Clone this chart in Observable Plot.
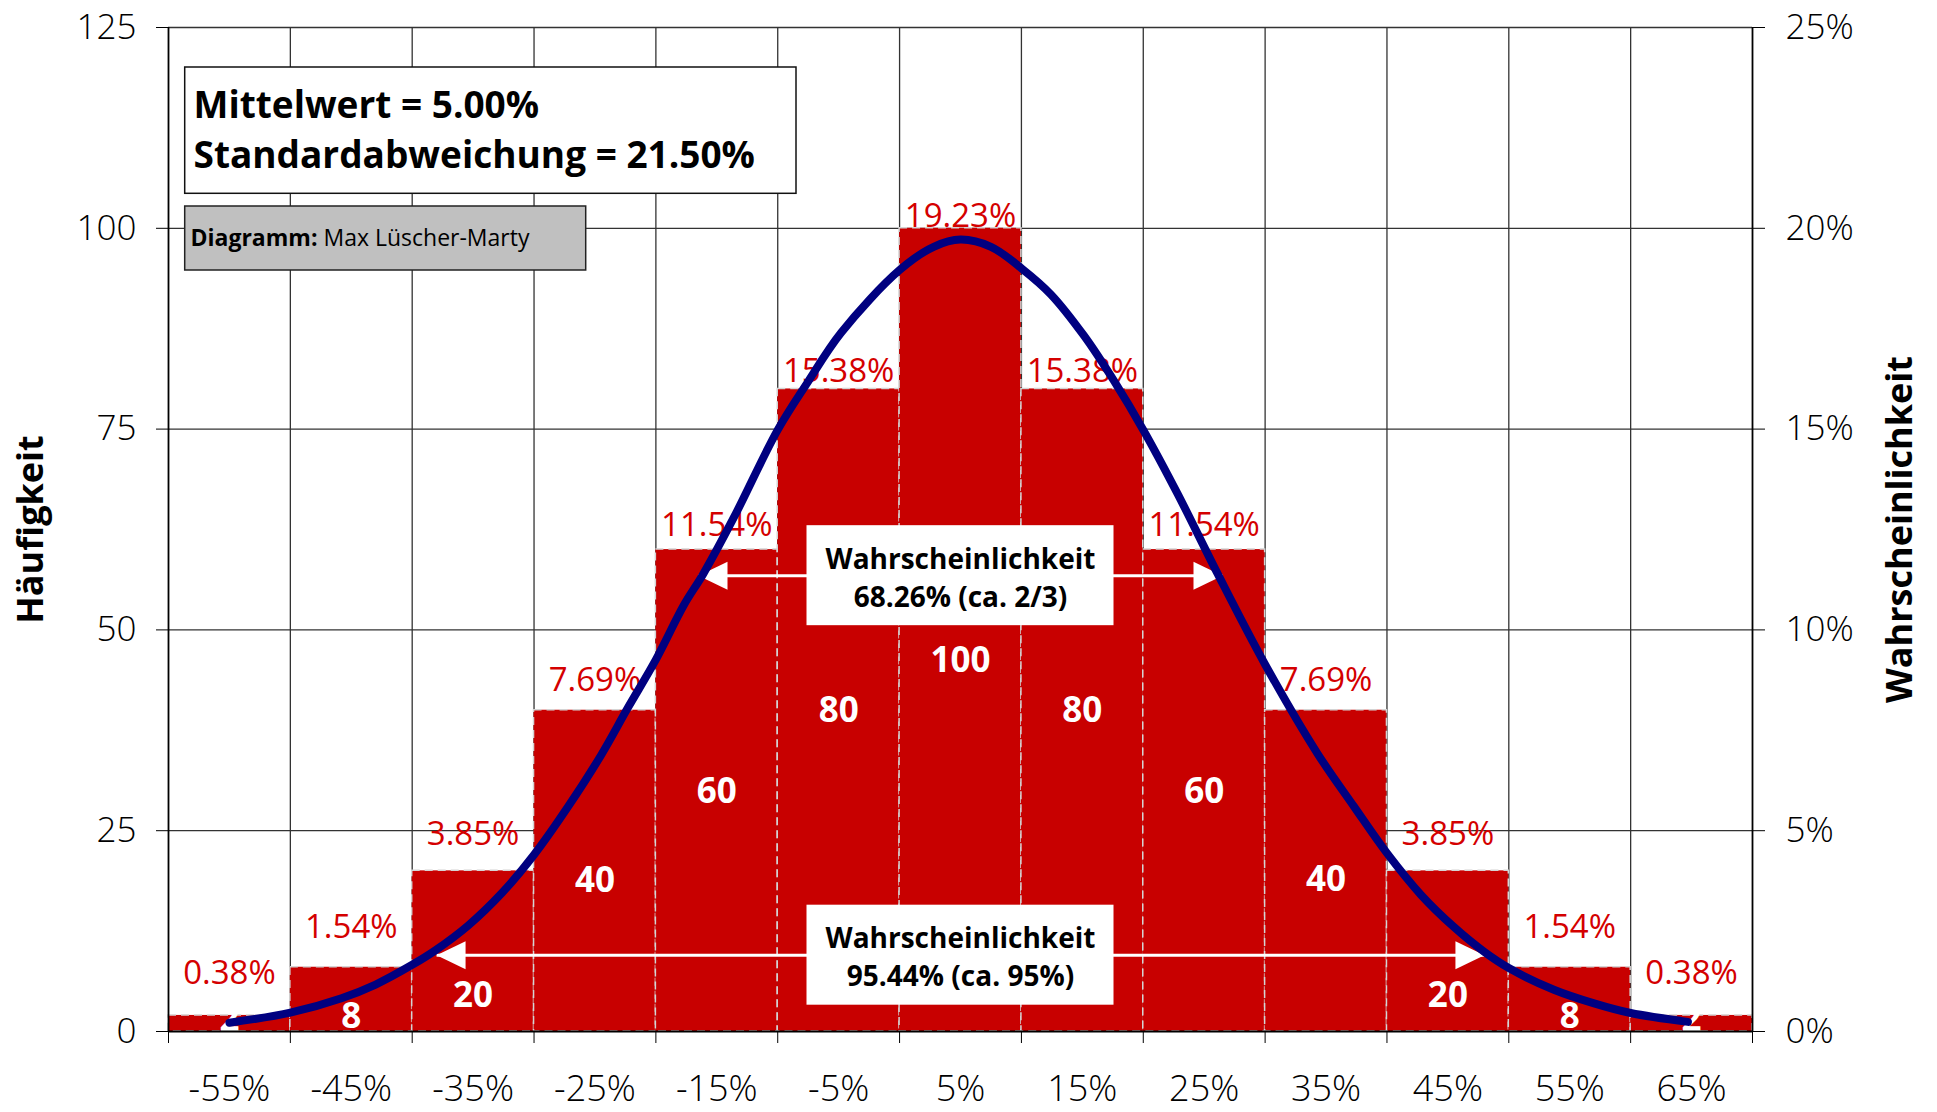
<!DOCTYPE html>
<html>
<head>
<meta charset="utf-8">
<script src="https://cdn.jsdelivr.net/npm/d3@7"></script>
<script src="https://cdn.jsdelivr.net/npm/@observablehq/plot@0.6"></script>
<style>
  html, body { margin: 0; padding: 0; background: #fff; }
  svg { display: block; }
</style>
</head>
<body>
<div id="chart"></div>
<script>
// ---------------- data ----------------
const binCenters = [-55, -45, -35, -25, -15, -5, 5, 15, 25, 35, 45, 55, 65];
const counts     = [2, 8, 20, 40, 60, 80, 100, 80, 60, 40, 20, 8, 2];
const shares     = [0.38, 1.54, 3.85, 7.69, 11.54, 15.38, 19.23, 15.38, 11.54, 7.69, 3.85, 1.54, 0.38];
const countLabelAt = [1.4, 1.8, 4.4, 18.8, 29.9, 39.9, 46.2, 39.9, 29.9, 18.9, 4.4, 1.8, 1.4];

const yTicks     = [0, 25, 50, 75, 100, 125];
const shareTicks = [0, 5, 10, 15, 20, 25];

// normal curve (x in %, y in Häufigkeit units)
const curveX = [-55, -50, -45.8, -43, -40, -38.1, -35.4, -32.6, -30, -27.2, -24.5, -22.3, -20, -17.7, -16.1, -13.6, -10, -7.6, -4.8, 0, 2.8, 5, 7.5, 10.1, 12.4, 15.15, 17.6, 20, 22.8, 26.1, 30, 34.3, 37.3, 40, 42.8, 45.5, 48, 50, 53.7, 57, 60, 64.7];
const curveY = [1.1, 2.35, 4.15, 5.85, 8.3, 10.1, 13.2, 17.3, 22.0, 28.0, 34.4, 40.3, 46.3, 53.1, 57.0, 64.0, 74.9, 80.7, 87.0, 94.8, 97.7, 98.6, 97.7, 94.9, 91.8, 86.6, 81.0, 74.9, 67.0, 57.0, 45.7, 34.6, 28.0, 22.2, 17.0, 13.0, 9.9, 7.9, 5.2, 3.5, 2.3, 1.2];

const mittelwert = 5.00;
const standardabweichung = 21.50;

const rangeLow    = [-16.5, -38];
const rangeHigh   = [26.5, 48];
const rangeLevel  = [56.75, 9.5];
const rangeLabels = ["Wahrscheinlichkeit\n68.26% (ca. 2/3)", "Wahrscheinlichkeit\n95.44% (ca. 95%)"];

const creditBold = "Diagramm:";
const creditName = "Max Lüscher-Marty";

// ---------------- derived tables ----------------
const binWidth = binCenters[1] - binCenters[0];
const bins = binCenters.map((c, i) => ({
  center: c, x1: c - binWidth / 2, x2: c + binWidth / 2,
  count: counts[i], share: shares[i], labelAt: countLabelAt[i]
}));
const edges = [bins[0].x1, ...bins.map(b => b.x2)];
const xMin = edges[0], xMax = edges[edges.length - 1];
const ratio = yTicks[yTicks.length - 1] / shareTicks[shareTicks.length - 1];
const curve = curveX.map((x, i) => ({x, y: curveY[i]}));
const ranges = rangeLow.map((lo, i) => ({lo, hi: rangeHigh[i], level: rangeLevel[i], label: rangeLabels[i]}));
const statsText = `Mittelwert = ${mittelwert.toFixed(2)}%\nStandardabweichung = ${standardabweichung.toFixed(2)}%`;

const FONT = "'Open Sans', 'Noto Sans', sans-serif";

// measure the bold credit prefix for the following regular text
const ctx = document.createElement("canvas").getContext("2d");
ctx.font = `bold 23px 'Open Sans'`;
const creditOffset = ctx.measureText(creditBold + " ").width;

const headLeft  = {draw(c) { c.moveTo(0, 0); c.lineTo(29, -14); c.lineTo(29, 14); c.closePath(); }};
const headRight = {draw(c) { c.moveTo(0, 0); c.lineTo(-29, -14); c.lineTo(-29, 14); c.closePath(); }};

const gridColor = "#333333";
const red = "#c80000";

const chart = Plot.plot({
  width: 1937,
  height: 1112,
  marginLeft: 168,
  marginRight: 185,
  marginTop: 27,
  marginBottom: 81,
  style: {fontFamily: FONT, background: "white", color: "black"},
  x: {domain: [xMin, xMax]},
  y: {domain: [yTicks[0], yTicks[yTicks.length - 1]]},
  marks: [
    // grid
    Plot.ruleY(yTicks.slice(1), {stroke: gridColor, strokeWidth: 1.3}),
    Plot.ruleX(edges.slice(1, -1), {stroke: gridColor, strokeWidth: 1.3}),

    // info boxes (top left)
    Plot.rect([0], {insetLeft: 16.7, insetRight: 956, insetTop: 40, insetBottom: 837.7,
      fill: "white", stroke: "#111", strokeWidth: 1.5}),
    Plot.rect([0], {insetLeft: 16.7, insetRight: 1166.3, insetTop: 179, insetBottom: 761,
      fill: "#c0c0c0", stroke: "#222", strokeWidth: 1.5}),

    // histogram bars
    Plot.rectY(bins, {x1: "x1", x2: "x2", y: "count", fill: red,
      stroke: "#d4d4d4", strokeWidth: 1.5, strokeDasharray: "8,5"}),

    // count labels
    Plot.text(bins, {x: "center", y: "labelAt", text: d => String(d.count),
      fill: "white", fontWeight: "bold", fontSize: 35}),

    // share labels
    Plot.text(bins, {x: "center", y: d => d.share * ratio, text: d => d.share.toFixed(2) + "%",
      dy: -32, lineAnchor: "bottom", fill: "#d40000", fontSize: 33}),

    // sigma arrows
    Plot.link(ranges, {x1: "lo", x2: "hi", y1: "level", y2: "level", stroke: "white", strokeWidth: 3}),
    Plot.dot(ranges, {x: "lo", y: "level", symbol: headLeft, fill: "white", stroke: null}),
    Plot.dot(ranges, {x: "hi", y: "level", symbol: headRight, fill: "white", stroke: null}),
    Plot.rect(ranges, {x1: () => mittelwert, x2: () => mittelwert, y1: "level", y2: "level",
      fill: "white", insetLeft: -153.5, insetRight: -153.5, insetTop: -50, insetBottom: -50}),
    Plot.text(ranges, {x: () => mittelwert, y: "level", text: "label", fontWeight: "bold",
      fontSize: 28, lineHeight: 1.35, fill: "black"}),

    // normal curve
    Plot.line(curve, {x: "x", y: "y", stroke: "#000080", strokeWidth: 8, curve: "catmull-rom"}),

    // axis lines
    Plot.ruleX([xMin, xMax], {stroke: "black", strokeWidth: 1.8}),
    Plot.ruleY([0], {stroke: "black", strokeWidth: 1.8}),

    // axes
    Plot.axisY(yTicks, {anchor: "left", tickSize: 12, tickPadding: 20, fontSize: 35, fontWeight: 300,
      label: null, tickFormat: d => String(d)}),
    Plot.axisY(yTicks, {anchor: "right", tickSize: 12, tickPadding: 21, fontSize: 35, fontWeight: 300,
      label: null, tickFormat: d => `${d / ratio}%`}),
    Plot.axisX(edges, {anchor: "bottom", tickSize: 12, label: null, tickFormat: () => ""}),
    Plot.axisX(binCenters, {anchor: "bottom", tickSize: 0, tickPadding: 44, fontSize: 36, fontWeight: 300,
      label: null, tickFormat: d => `${d}%`}),

    // axis titles
    Plot.text(["Häufigkeit"], {text: d => d, frameAnchor: "left", dx: -137, rotate: -90,
      textAnchor: "middle", fontSize: 36, fontWeight: "bold", fill: "black"}),
    Plot.text(["Wahrscheinlichkeit"], {text: d => d, frameAnchor: "right", dx: 148, rotate: -90,
      textAnchor: "middle", fontSize: 36, fontWeight: "bold", fill: "black"}),

    // box texts
    Plot.text([statsText], {text: d => d, frameAnchor: "top-left", dx: 25, dy: 140,
      lineAnchor: "bottom", textAnchor: "start", fontSize: 37, fontWeight: "bold",
      lineHeight: 1.33, fill: "black"}),
    Plot.text([creditBold], {text: d => d, frameAnchor: "top-left", dx: 22, dy: 218,
      lineAnchor: "bottom", textAnchor: "start", fontSize: 23, fontWeight: "bold", fill: "black"}),
    Plot.text([creditName], {text: d => d, frameAnchor: "top-left", dx: 22 + creditOffset, dy: 218,
      lineAnchor: "bottom", textAnchor: "start", fontSize: 23, fill: "black"})
  ]
});

document.getElementById("chart").appendChild(chart);
</script>
</body>
</html>
